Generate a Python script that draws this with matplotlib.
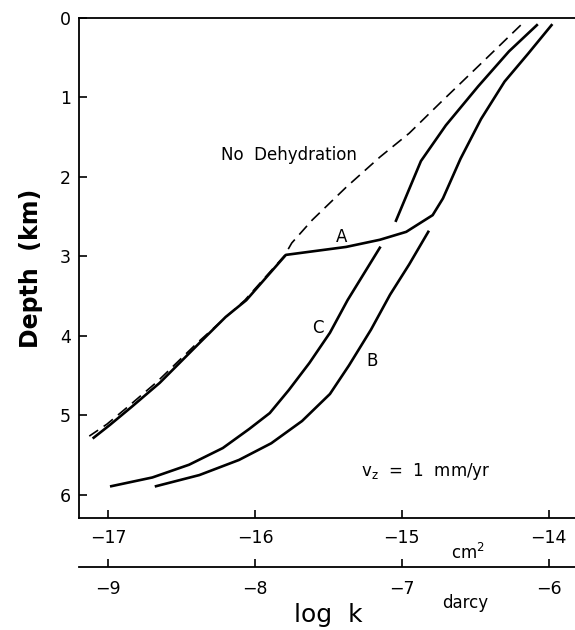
import matplotlib
matplotlib.use("Agg")
import matplotlib.pyplot as plt

# ---------------- Data (log k in cm^2, depth in km) ----------------
nodehyd_logk = [-14.19, -14.47, -14.74, -14.95, -15.15, -15.38, -15.61, -15.75, -15.80,
                -16.07, -16.39, -16.67, -16.86, -17.01, -17.13]
nodehyd_depth = [0.09, 0.59, 1.07, 1.45, 1.75, 2.13, 2.54, 2.83, 2.99,
                 3.55, 4.08, 4.58, 4.88, 5.11, 5.26]

curve_a_logk = [-17.10, -16.99, -16.84, -16.65, -16.38, -16.20, -16.06, -15.79, -15.38,
                -15.15, -14.97, -14.79, -14.72, -14.60, -14.46, -14.30, -14.14, -13.98]
curve_a_depth = [5.28, 5.12, 4.89, 4.59, 4.09, 3.76, 3.55, 2.98, 2.88,
                 2.79, 2.69, 2.48, 2.27, 1.77, 1.27, 0.80, 0.45, 0.09]

upper_logk = [-15.04, -14.87, -14.70, -14.48, -14.27, -14.08]
upper_depth = [2.55, 1.80, 1.35, 0.86, 0.42, 0.09]

curve_c_logk = [-15.15, -15.27, -15.37, -15.49, -15.63, -15.77, -15.90, -16.04, -16.22,
                -16.45, -16.70, -16.98]
curve_c_depth = [2.89, 3.25, 3.55, 3.96, 4.34, 4.68, 4.97, 5.17, 5.41,
                 5.62, 5.78, 5.89]

curve_b_logk = [-14.82, -14.95, -15.08, -15.21, -15.36, -15.49, -15.68, -15.89, -16.11,
                -16.38, -16.675]
curve_b_depth = [2.69, 3.10, 3.48, 3.92, 4.37, 4.73, 5.07, 5.35, 5.56, 5.75, 5.89]

xticks_cm2 = [-17, -16, -15, -14]
xticks_darcy = [-9, -8, -7, -6]
yticks = [0, 1, 2, 3, 4, 5, 6]

# ---------------- Figure ----------------
fig = plt.figure(figsize=(5.75, 6.3), dpi=100)
ax = fig.add_axes([79 / 575, 1 - 518 / 630, 1 - 79 / 575, 500 / 630])

lw = 1.9
ax.plot(nodehyd_logk, nodehyd_depth, color="black", lw=1.2, ls=(0, (7, 4)))
ax.plot(curve_a_logk, curve_a_depth, color="black", lw=lw, solid_joinstyle="round")
ax.plot(upper_logk, upper_depth, color="black", lw=lw, solid_joinstyle="round")
ax.plot(curve_c_logk, curve_c_depth, color="black", lw=lw, solid_joinstyle="round")
ax.plot(curve_b_logk, curve_b_depth, color="black", lw=lw, solid_joinstyle="round")

ax.set_xlim(-17.2, -13.82)
ax.set_ylim(6.29, 0)
ax.spines["right"].set_visible(False)
for s in ["left", "top", "bottom"]:
    ax.spines[s].set_linewidth(1.3)

ax.set_xticks(xticks_cm2)
ax.set_yticks(yticks)
ax.tick_params(axis="both", direction="in", length=6, width=1.2, labelsize=12.5)
ax.tick_params(axis="x", pad=8)
ax.tick_params(axis="y", pad=6)
ax.set_ylabel("Depth  (km)", fontsize=17, fontweight="bold", labelpad=12)

# darcy axis below the cm^2 axis
sec = ax.secondary_xaxis(-49 / 500, functions=(lambda x: x + 8, lambda x: x - 8))
sec.set_xticks(xticks_darcy)
sec.spines["bottom"].set_linewidth(1.3)
sec.tick_params(axis="x", direction="in", length=6, width=1.2, labelsize=12.5, pad=9)

# labels
ax.text(-16.23, 1.72, "No  Dehydration", fontsize=12, va="center", ha="left")
ax.text(-15.41, 2.75, "A", fontsize=12, va="center", ha="center")
ax.text(-15.57, 3.90, "C", fontsize=12, va="center", ha="center")
ax.text(-15.20, 4.32, "B", fontsize=12, va="center", ha="center")
ax.text(-15.28, 5.71, "$\\mathregular{v_z}$  =  1  mm/yr", fontsize=12, va="center", ha="left")

fig.text(468 / 575, 1 - 553 / 630, "cm$^2$", fontsize=12, ha="center", va="center")
fig.text(465 / 575, 1 - 603 / 630, "darcy", fontsize=12, ha="center", va="center")
fig.text(328 / 575, 1 - 622 / 630, "log  k", fontsize=18, ha="center", va="baseline")

fig.savefig("out.png", dpi=100)
